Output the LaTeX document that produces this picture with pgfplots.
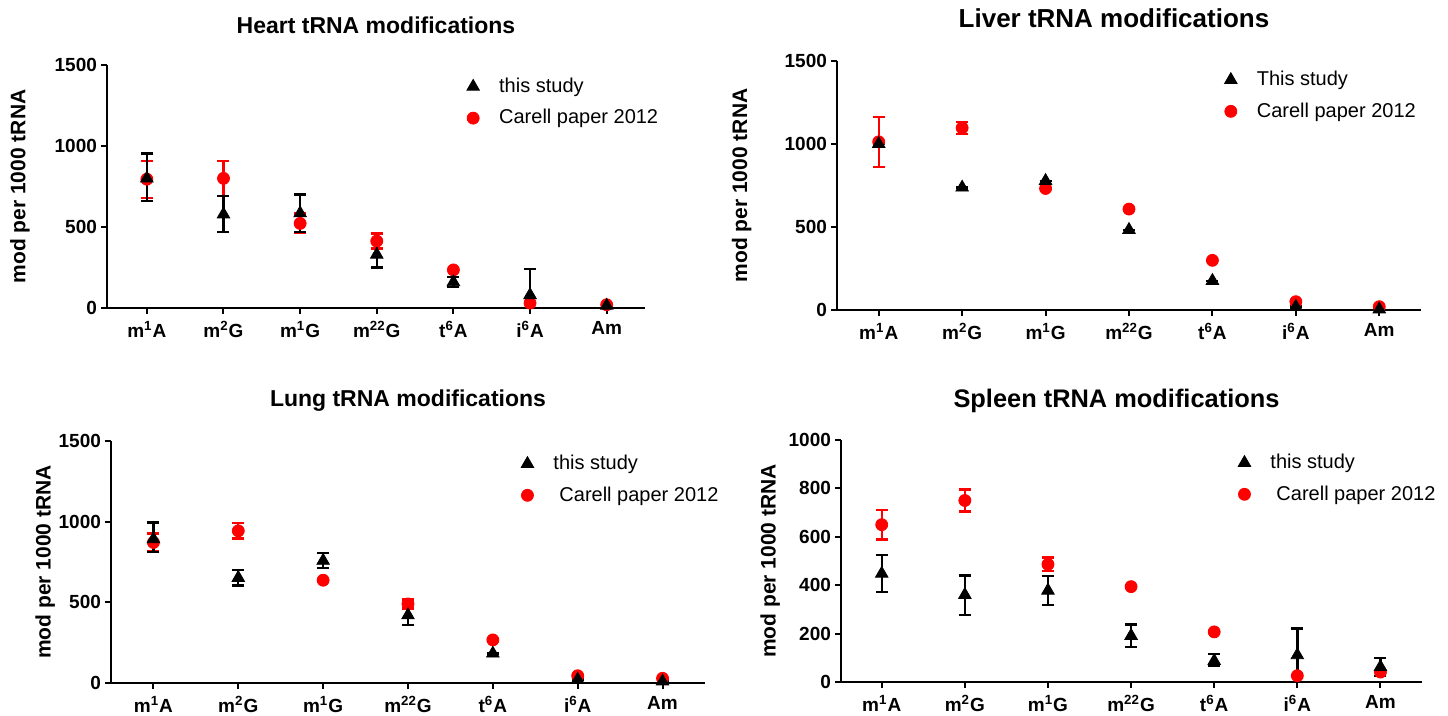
\documentclass[border=0pt]{standalone}
\usepackage{fontspec}
\setmainfont{Liberation Sans}
\usepackage{pgfplots}
\pgfplotsset{compat=1.18}
\definecolor{pred}{RGB}{255,0,0}
\newcommand{\ttl}{\bfseries\fontsize{11.5}{13}\selectfont}
\pgfplotsset{
  panel/.style={
    scale only axis,
    axis lines=left,
    axis line style={-, line width=1.4pt},
    xmin=-0.5, xmax=6.5, ymin=0,
    xtick={0,...,6},
    xticklabels={m\textsuperscript{1}A, m\textsuperscript{2}G, m\textsuperscript{1}G, m\textsuperscript{22}G, t\textsuperscript{6}A, i\textsuperscript{6}A, Am},
    tick align=outside,
    major tick length=3pt,
    tick style={line width=1pt, black},
    /pgf/number format/assume math mode=true,
    /pgf/number format/1000 sep={},
    yticklabel style={font=\bfseries\fontsize{9.5}{11}\selectfont, xshift=1.5pt},
    xticklabel style={font=\bfseries\fontsize{9.5}{11}\selectfont},
    ylabel={mod per 1000 tRNA},
    ylabel style={font=\bfseries\fontsize{10.5}{12}\selectfont, anchor=center},
    clip=false,
    legend style={draw=none, fill=none, font=\fontsize{10}{12}\selectfont, anchor=north west, row sep=3pt, inner sep=0pt, cells={anchor=west}},
    legend image code/.code={\path[draw=none,fill=none] (-4pt,-4pt) rectangle (11pt,4pt); \draw[#1] plot coordinates {(0pt,0pt)};},
    reverse legend,
  },
  blk/.style={only marks, mark=triangle*, mark size=3.6pt, black, mark options={fill=black, draw=black},
    error bars/.cd, y dir=both, y explicit,
    error bar style={line width=1.2pt, black},
    error mark options={rotate=90, mark size=3pt, line width=1.2pt, black}},
  rd/.style={only marks, mark=*, mark size=3pt, color=pred, mark options={fill=pred, draw=pred},
    error bars/.cd, y dir=both, y explicit,
    error bar style={line width=1.2pt, pred},
    error mark options={rotate=90, mark size=3pt, line width=1.2pt, pred}},
}
\begin{document}
\begin{tikzpicture}
\path[use as bounding box] (0,0) rectangle (724pt,358pt);
% Heart
\begin{axis}[panel, at={(53.5pt,204pt)}, anchor=south west, width=269pt, height=121.5pt,
  xmin=-0.52, ymax=1500, ytick={0,500,1000,1500},
  ylabel style={at={(axis description cs:-0.162,0.5)}},
  legend style={at={(axis description cs:0.665,0.965)}}]
\addplot[rd] table[x=x,y=y,y error plus=ep,y error minus=em]{
x y ep em
0 795 114 115
1 800 107 107
2 522 61 58
3 413 47 46
4 235 0 0
5 30 0 0
6 20 0 0
};
\addlegendentry{Carell paper 2012}
\addplot[blk] table[x=x,y=y,y error plus=ep,y error minus=em]{
x y ep em
0 800 154 139
1 578 112 108
2 585 115 115
3 330 84 81
4 160 32 32
5 80 160 80
6 15 5 5
};
\addlegendentry{this study}
\node[font=\ttl] at (rel axis cs:0.5,1) [yshift=20pt] {Heart tRNA modifications};
\end{axis}
% Liver
\begin{axis}[panel, at={(418.5pt,203pt)}, anchor=south west, width=292pt, height=124.5pt,
  ymax=1500, ytick={0,500,1000,1500},
  ylabel style={at={(axis description cs:-0.163,0.5)}},
  legend style={at={(axis description cs:0.66,0.977)}}]
\addplot[rd] table[x=x,y=y,y error plus=ep,y error minus=em]{
x y ep em
0 1013 150 150
1 1097 36 36
2 732 0 0
3 608 0 0
4 299 0 0
5 50 0 0
6 20 0 0
};
\addlegendentry{Carell paper 2012}
\addplot[blk] table[x=x,y=y,y error plus=ep,y error minus=em]{
x y ep em
0 1001 0 0
1 738 0 0
2 778 0 0
3 483 0 0
4 176 0 0
5 20 0 0
6 4 0 0
};
\addlegendentry{This study}
\node[font=\bfseries\fontsize{13}{15}\selectfont] at (rel axis cs:0.5,1) [xshift=-7.5pt, yshift=21.5pt] {Liver tRNA modifications};
\end{axis}
% Lung
\begin{axis}[panel, at={(55.5pt,16.5pt)}, anchor=south west, width=297pt, height=121pt,
  ymax=1500, ytick={0,500,1000,1500},
  ylabel style={at={(axis description cs:-0.111,0.5)}},
  legend style={at={(axis description cs:0.687,0.96)}}]
\addplot[rd] table[x=x,y=y,y error plus=ep,y error minus=em]{
x y ep em
0 871 55 55
1 943 48 48
2 637 0 0
3 490 28 28
4 267 0 0
5 45 0 0
6 29 0 0
};
\addlegendentry{\hspace{3pt}Carell paper 2012}
\addplot[blk] table[x=x,y=y,y error plus=ep,y error minus=em]{
x y ep em
0 892 104 80
1 652 50 48
2 758 48 45
3 420 70 60
4 183 0 0
5 21 0 0
6 10 0 0
};
\addlegendentry{this study}
\node[font=\ttl] at (rel axis cs:0.5,1) [yshift=20pt] {Lung tRNA modifications};
\end{axis}
% Spleen
\begin{axis}[panel, at={(420.5pt,17pt)}, anchor=south west, width=290.5pt, height=121pt,
  xmin=-0.49, ymax=1000, ytick={0,200,400,600,800,1000},
  ylabel style={at={(axis description cs:-0.122,0.5)}},
  legend style={at={(axis description cs:0.68,0.96)}}]
\addplot[rd] table[x=x,y=y,y error plus=ep,y error minus=em]{
x y ep em
0 650 61 61
1 750 45 45
2 486 28 28
3 394 0 0
4 207 0 0
5 26 0 0
6 41 0 0
};
\addlegendentry{\hspace{3pt}Carell paper 2012}
\addplot[blk] table[x=x,y=y,y error plus=ep,y error minus=em]{
x y ep em
0 448 76 75
1 360 80 82
2 378 61 61
3 191 46 47
4 87 28 20
5 111 110 111
6 62 38 38
};
\addlegendentry{this study}
\node[font=\bfseries\fontsize{12.7}{15}\selectfont] at (rel axis cs:0.5,1) [xshift=-7.5pt, yshift=19.5pt] {Spleen tRNA modifications};
\end{axis}
\end{tikzpicture}
\end{document}
